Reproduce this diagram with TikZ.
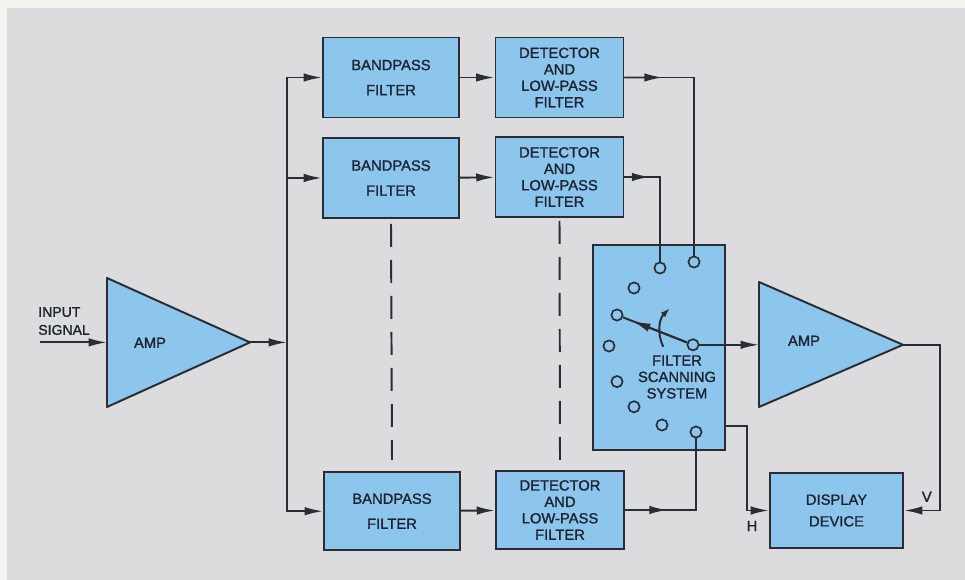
\documentclass[tikz,border=0pt]{standalone}
\usepackage{fontspec}
\setmainfont{Liberation Sans}[BoldFont={Liberation Sans}, BoldFeatures={FakeBold=1.3}]
\usetikzlibrary{calc,arrows.meta}

\begin{document}
\begin{tikzpicture}[
		wire/.style={draw=wirecol, line width=1.4pt},
		arr/.style={wire, -{Latex[length=13pt,width=6pt]}},
		block/.style={draw=wirecol, line width=1.4pt, fill=blockfill, inner sep=0pt, align=center, text=inkcol},
		bpbox/.style={block, minimum width=3.4cm, minimum height=2cm, font=\bfseries\fontsize{10.5}{17.8}\selectfont},
		detbox/.style={block, minimum width=3.2cm, minimum height=2cm, font=\bfseries\fontsize{10.5}{11.7}\selectfont},
		port/.style={circle, draw=wirecol, line width=1.2pt, fill=blockfill, minimum size=0.28cm, inner sep=0pt},
		lbl/.style={text=inkcol, inner sep=0pt, align=center, font=\bfseries\fontsize{10.5}{11.7}\selectfont}
	]
	\definecolor{pagecol}{HTML}{F4F3EF}
	\definecolor{panelcol}{HTML}{DCDCDE}
	\definecolor{blockfill}{HTML}{8DC6EC}
	\definecolor{wirecol}{HTML}{2A2D35}
	\definecolor{inkcol}{HTML}{1C2433}
	
	% ---------- page and grey panel ----------
	\useasboundingbox (0,0) rectangle (24.125,14.5);
	\fill[pagecol] (0,0) rectangle (24.125,14.5);
	\fill[panelcol] (0.175,0) rectangle (24.125,14.3);
	
	% ---------- input and first amplifier ----------
	\node[lbl, anchor=south west, align=left, font=\bfseries\fontsize{10}{12.8}\selectfont] (intxt) at (0.95,6.12) {INPUT\\SIGNAL};
	\coordinate (insig) at (1.0,5.94);
	\draw[wire, fill=blockfill, line join=round] (2.675,7.55) -- (6.25,5.94) -- (2.675,4.325) -- cycle;
	\coordinate (amp1in) at (2.675,5.94);
	\coordinate (amp1out) at (6.25,5.94);
	\node[lbl] (amp1txt) at (3.75,5.93) {AMP};
	\coordinate (bus) at (7.175,5.94);
	
	\draw[arr] (insig) -- (amp1in);
	\draw[arr] (amp1out) -- (bus);
	
	% ---------- filter channels ----------
	\node[bpbox] (bp1) at (9.775,12.5625) {BANDPASS\\FILTER};
	\node[detbox] (dt1) at (13.9875,12.5625) {DETECTOR\\AND\\LOW-PASS\\FILTER};
	
	\node[bpbox] (bp2) at (9.775,10.05) {BANDPASS\\FILTER};
	\node[detbox] (dt2) at (13.9875,10.075) {DETECTOR\\AND\\LOW-PASS\\FILTER};
	
	\node[bpbox, minimum height=1.95cm] (bp3) at (9.8,1.72) {BANDPASS\\FILTER};
	\node[detbox, minimum height=1.95cm] (dt3) at (14.0,1.75) {DETECTOR\\AND\\LOW-PASS\\FILTER};
	
	% bus to each bandpass filter
	\draw[arr] (bus) |- (bp1.west);
	\draw[arr] (bus) |- (bp2.west);
	\draw[arr] (bus) |- (bp3.west);
	
	\draw[arr] (bp1) -- (dt1);
	\draw[arr] (bp2) -- (dt2);
	\draw[arr] (bp3) -- (dt3);
	
	% channels left out
	\draw[wire, dash pattern=on 0.575cm off 0.325cm] ($(bp2.south)+(0,-0.125)$) -- ($(bp3.north)+(0,0.275)$);
	\draw[wire, dash pattern=on 0.575cm off 0.325cm] ($(dt2.south)+(0,-0.075)$) -- ($(dt3.north)+(0,0.235)$);
	
	% ---------- filter scanning system ----------
	\node[block, minimum width=3.3cm, minimum height=5.125cm] (scan) at (16.475,5.8125) {};
	\node[lbl] (scantxt) at (16.925,5.075) {FILTER\\SCANNING\\SYSTEM};
	
	% detector outputs into the contacts
	\coordinate (d1bend) at (17.35,12.5625);
	\coordinate (d2bend) at (16.5,10.075);
	\coordinate (d3bend) at (17.4,1.75);
	\draw[wire] (dt1.east) -- (d1bend) -- (17.35,7.95);
	\draw[wire] (dt2.east) -- (d2bend) -- (16.5,7.8);
	\draw[wire] (dt3.east) -- (d3bend) -- (17.4,3.7);
	\draw[arr] (dt1.east) -- ($(dt1.east)!0.55!(d1bend)$);
	\draw[arr] (dt2.east) -- ($(dt2.east)!0.72!(d2bend)$);
	\draw[arr] (dt3.east) -- ($(dt3.east)!0.6!(d3bend)$);
	
	% contacts round the switch
	\node[port] (c2) at (17.35,7.95) {};
	\node[port] (c1) at (16.5,7.8) {};
	\node[port] (c3) at (15.85,7.3) {};
	\node[port] (c4) at (15.425,6.625) {};
	\node[port] (c5) at (15.225,5.85) {};
	\node[port] (c6) at (15.425,4.96) {};
	\node[port] (c7) at (15.85,4.33) {};
	\node[port] (c8) at (16.55,3.875) {};
	\node[port] (c9) at (17.4,3.7) {};
	
	% switch arm
	\node[port] (piv) at (17.325,5.88) {};
	\draw[wire] (piv) -- (c4);
	\draw[arr] (piv) -- ($(piv)!0.8!(c4)$);
	\coordinate (swa) at (16.58,5.83);
	\coordinate (swb) at (16.75,6.8);
	\draw[wire, -{Latex[length=7pt,width=4.5pt]}] (swa) to[bend left=35] (swb);
	
	% ---------- output amplifier and display ----------
	\draw[wire, fill=blockfill, line join=round] (18.975,7.45) -- (22.575,5.88) -- (18.975,4.325) -- cycle;
	\coordinate (amp2in) at (18.975,5.88);
	\coordinate (amp2out) at (22.575,5.88);
	\node[lbl] (amp2txt) at (20.1,5.98) {AMP};
	\draw[arr] (piv) -- (amp2in);
	
	\node[block, minimum width=3.325cm, minimum height=1.875cm, font=\bfseries\fontsize{10.5}{15.4}\selectfont] (disp) at (20.9125,1.7375) {DISPLAY\\DEVICE};
	
	% H from the scanner, V from the amplifier
	\coordinate (hout) at (18.125,3.85);
	\coordinate (hbend) at (18.675,3.85);
	\draw[arr] (hout) -- (hbend) |- (disp.west);
	\coordinate (vbend) at (23.5,5.88);
	\draw[arr] (amp2out) -- (vbend) |- (disp.east);
	\node[lbl] (htxt) at (18.8,1.35) {H};
	\node[lbl] (vtxt) at (23.17,2.08) {V};
	
\end{tikzpicture}
\end{document}
